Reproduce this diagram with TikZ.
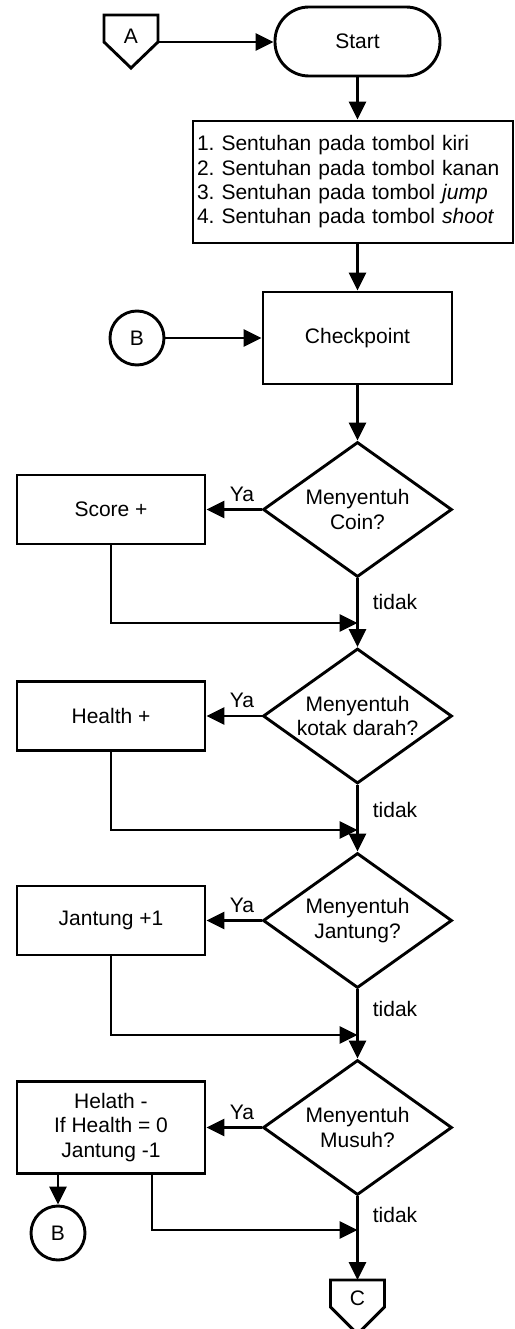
\documentclass[tikz,border=0pt]{standalone}
\usepackage{fontspec}
\setmainfont{Liberation Sans}
\usetikzlibrary{shapes.geometric,arrows.meta}
\frenchspacing
\begin{document}
\begin{tikzpicture}[x=1pt,y=-1pt, line width=2.9pt, line join=miter,
  font=\fontsize{21}{24.3}\selectfont,
  every node/.style={inner sep=0pt},
  arr/.style={-{Triangle[length=18pt,width=17pt]}},
  proc/.style={draw, rectangle, minimum width=188pt, align=center},
  dec/.style={draw, diamond, minimum width=189pt, minimum height=135pt, shape aspect=1.4, align=center},
  conn/.style={draw, circle, minimum size=54pt},
  offpage/.style={draw}]
\useasboundingbox (0,0) rectangle (514,1329);
\clip (0,0) rectangle (514,1329);

% off-page connector A
\draw[offpage] (104,15) -- (158,15) -- (158,42) -- (131,68) -- (104,42) -- cycle;
\node (a) at (131,36) {A};
\coordinate (aout) at (158,42);

\node[draw, rounded corners=34pt, minimum width=165pt, minimum height=69pt] (start) at (357.5,41.5) {Start};
\draw[arr] (aout) -- (aout -| start.west);

\node[draw, minimum width=320pt, minimum height=122pt, text width=312pt, align=left] (list) at (353,182)
  {1. Sentuhan pada tombol kiri\\2. Sentuhan pada tombol kanan\\3. Sentuhan pada tombol \textit{jump}\\4. Sentuhan pada tombol \textit{shoot}};
\draw[arr] (start.south) -- (start.south |- list.north);

\node[proc, minimum width=189pt, minimum height=92pt] (chk) at (357.5,338) {Checkpoint};
\draw[arr] (start.south |- list.south) -- (chk.north);
\node[conn] (b1) at (137,338) {B};
\draw[arr] (b1) -- (chk);

% decisions
\node[dec] (d1) at (357.5,509.5) {Menyentuh\\Coin?};
\node[dec] (d2) at (357.5,716) {Menyentuh\\kotak darah?};
\node[dec] (d3) at (357.5,920.5) {Menyentuh\\Jantung?};
\node[dec] (d4) at (357.5,1127.5) {Menyentuh\\Musuh?};

\draw[arr] (chk.south) -- (d1.north);
\draw[arr] (d1.south) -- (d2.north);
\draw[arr] (d2.south) -- (d3.north);
\draw[arr] (d3.south) -- (d4.north);

% process boxes
\node[proc, minimum height=69pt] (s1) at (111,509.5) {Score +};
\node[proc, minimum height=69pt] (s2) at (111,716) {Health +};
\node[proc, minimum height=69pt] (s3) at (111,920.5) {Jantung +1};
\node[proc, minimum height=92pt] (s4) at (111,1127.5) {Helath -\\If Health = 0\\Jantung -1};

\draw[arr] (d1.west) -- (s1.east);
\draw[arr] (d2.west) -- (s2.east);
\draw[arr] (d3.west) -- (s3.east);
\draw[arr] (d4.west) -- (s4.east);

\node at (242,494) {Ya};
\node at (242,700) {Ya};
\node at (242,905) {Ya};
\node at (242,1112) {Ya};

\node at (395,602) {tidak};
\node at (395,810) {tidak};
\node at (395,1009) {tidak};
\node at (395,1215) {tidak};

% merges
\coordinate (j1) at (357.5,623);
\coordinate (j2) at (357.5,830);
\coordinate (j3) at (357.5,1035);
\coordinate (j4) at (357.5,1230);
\draw[arr] (s1.south) |- (j1);
\draw[arr] (s2.south) |- (j2);
\draw[arr] (s3.south) |- (j3);
\draw[arr] ([xshift=41pt]s4.south) |- (j4);

\node[conn] (b2) at (58,1233) {B};
\draw[arr] (b2.north |- s4.south) -- (b2);

% off-page connector C
\draw[offpage] (330.5,1280) -- (384.5,1280) -- (384.5,1307) -- (357.5,1334) -- (330.5,1307) -- cycle;
\node (c) at (357.5,1298) {C};
\coordinate (cin) at (357.5,1280);
\draw[arr] (d4.south) -- (cin);
\end{tikzpicture}
\end{document}
